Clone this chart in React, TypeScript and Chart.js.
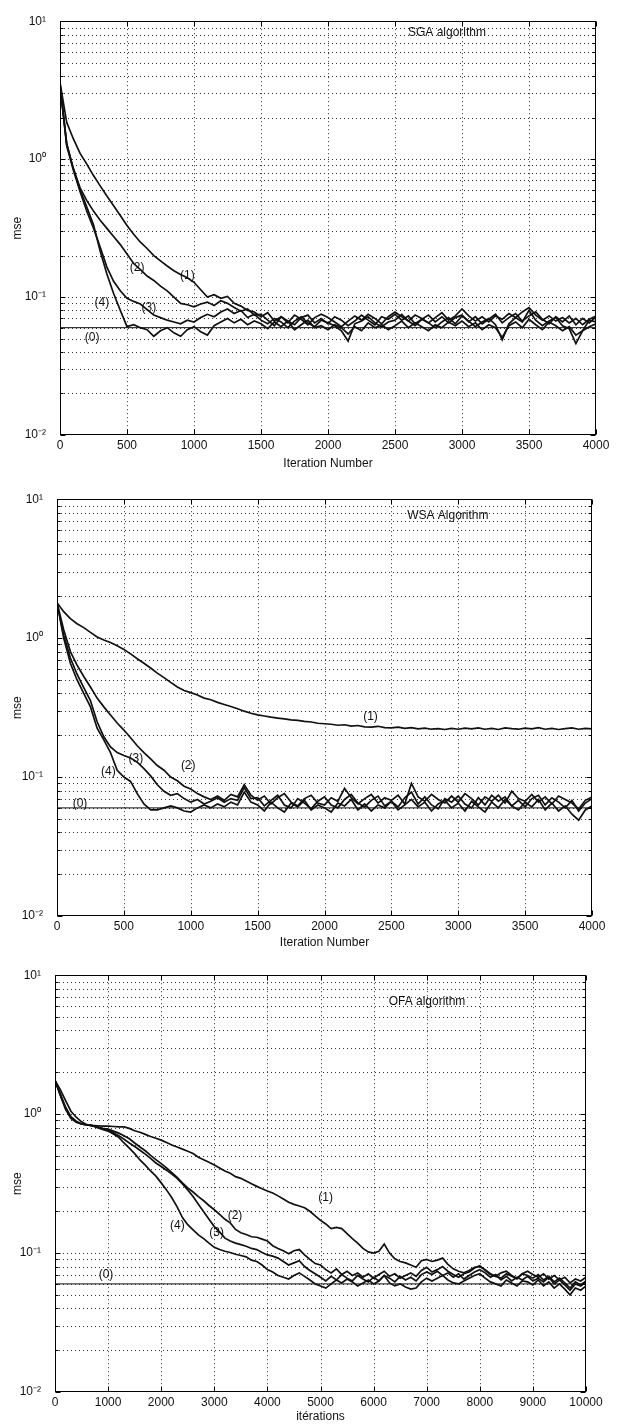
import React, { useEffect, useRef } from 'react';
import { Chart, registerables } from 'chart.js';

Chart.register(...registerables);

const FONT_FAMILY = '"Liberation Sans", Arial, Helvetica, sans-serif';
const INK = '#111111';

// ---------- axes ----------
const LOG_TICKS = [
  0.01, 0.02, 0.03, 0.04, 0.05, 0.06, 0.07, 0.08, 0.09,
  0.1, 0.2, 0.3, 0.4, 0.5, 0.6, 0.7, 0.8, 0.9,
  1, 2, 3, 4, 5, 6, 7, 8, 9, 10,
];
const Y_MAJOR = [0.01, 0.1, 1, 10];
const Y_MAJOR_LABELS = ['10⁻²', '10⁻¹', '10⁰', '10¹'];
const MSE_FLOOR = 0.06; // curve (0)

// iteration grids (categories)
const SGA_ITER = Array.from({ length: 81 }, (_, i) => i * 50);
const WSA_ITER = Array.from({ length: 81 }, (_, i) => i * 50);
const OFA_ITER = Array.from({ length: 101 }, (_, i) => i * 100);

// ---------- SGA ----------
const SGA_1 = [
  3.6, 1.85, 1.40, 1.10, 0.92, 0.76, 0.64, 0.54, 0.46, 0.39,
  0.33, 0.285, 0.25, 0.225, 0.20, 0.183, 0.168, 0.155, 0.146, 0.138,
  0.128, 0.113, 0.100, 0.104, 0.098, 0.101, 0.090, 0.086, 0.080, 0.078,
  0.072, 0.077, 0.067, 0.072, 0.065, 0.074, 0.069, 0.063, 0.071, 0.075,
  0.071, 0.066, 0.061, 0.067, 0.073, 0.068, 0.075, 0.070, 0.064, 0.072,
  0.078, 0.072, 0.067, 0.074, 0.070, 0.065, 0.071, 0.077, 0.068, 0.073,
  0.082, 0.073, 0.067, 0.072, 0.066, 0.073, 0.069, 0.076, 0.071, 0.078,
  0.084, 0.074, 0.068, 0.073, 0.067, 0.071, 0.065, 0.070, 0.063, 0.069, 0.073,
];
const SGA_2 = [
  3.4, 1.30, 0.85, 0.62, 0.50, 0.42, 0.36, 0.315, 0.275, 0.24,
  0.205, 0.175, 0.158, 0.142, 0.132, 0.120, 0.111, 0.100, 0.090, 0.088,
  0.085, 0.089, 0.092, 0.087, 0.094, 0.090, 0.084, 0.079, 0.082, 0.074,
  0.075, 0.068, 0.062, 0.072, 0.067, 0.063, 0.071, 0.074, 0.065, 0.070,
  0.064, 0.072, 0.068, 0.062, 0.067, 0.074, 0.068, 0.063, 0.072, 0.069,
  0.075, 0.068, 0.073, 0.064, 0.069, 0.074, 0.066, 0.072, 0.065, 0.071,
  0.074, 0.066, 0.072, 0.064, 0.069, 0.075, 0.065, 0.071, 0.076, 0.067,
  0.073, 0.078, 0.069, 0.064, 0.072, 0.066, 0.073, 0.063, 0.070, 0.065, 0.072,
];
const SGA_3 = [
  3.5, 1.25, 0.83, 0.58, 0.42, 0.316, 0.23, 0.165, 0.130, 0.111,
  0.098, 0.093, 0.089, 0.081, 0.074, 0.071, 0.068, 0.066, 0.064, 0.068,
  0.066, 0.071, 0.075, 0.072, 0.078, 0.082, 0.076, 0.080, 0.071, 0.075,
  0.068, 0.064, 0.070, 0.066, 0.060, 0.067, 0.072, 0.065, 0.061, 0.068,
  0.065, 0.062, 0.057, 0.048, 0.064, 0.067, 0.072, 0.065, 0.061, 0.066,
  0.068, 0.075, 0.067, 0.062, 0.069, 0.065, 0.060, 0.066, 0.071, 0.064,
  0.073, 0.067, 0.061, 0.066, 0.070, 0.063, 0.049, 0.064, 0.071, 0.066,
  0.080, 0.068, 0.062, 0.067, 0.071, 0.062, 0.059, 0.046, 0.057, 0.068, 0.066,
];
const SGA_4 = [
  3.5, 1.28, 0.85, 0.60, 0.45, 0.335, 0.215, 0.147, 0.106, 0.080,
  0.061, 0.063, 0.060, 0.058, 0.052, 0.057, 0.060, 0.055, 0.052, 0.058,
  0.061, 0.056, 0.053, 0.062, 0.066, 0.070, 0.065, 0.069, 0.063, 0.067,
  0.064, 0.059, 0.066, 0.061, 0.067, 0.058, 0.063, 0.068, 0.060, 0.062,
  0.058, 0.063, 0.060, 0.054, 0.061, 0.057, 0.065, 0.060, 0.063, 0.058,
  0.062, 0.067, 0.060, 0.065, 0.061, 0.057, 0.063, 0.060, 0.066, 0.062,
  0.067, 0.061, 0.065, 0.058, 0.063, 0.060, 0.051, 0.062, 0.066, 0.060,
  0.069, 0.063, 0.058, 0.066, 0.062, 0.057, 0.061, 0.053, 0.057, 0.061, 0.064,
];

// ---------- WSA ----------
const WSA_1 = [
  1.8, 1.55, 1.38, 1.27, 1.19, 1.10, 1.02, 0.97, 0.93, 0.88,
  0.83, 0.77, 0.71, 0.66, 0.61, 0.56, 0.52, 0.48, 0.445, 0.42,
  0.405, 0.39, 0.37, 0.36, 0.345, 0.333, 0.322, 0.31, 0.298, 0.288,
  0.28, 0.275, 0.27, 0.266, 0.262, 0.258, 0.256, 0.252, 0.249, 0.244,
  0.242, 0.240, 0.236, 0.238, 0.233, 0.235, 0.230, 0.229, 0.232, 0.227,
  0.226, 0.229, 0.224, 0.227, 0.222, 0.225, 0.221, 0.223, 0.220, 0.224,
  0.221, 0.225, 0.222, 0.226, 0.221, 0.224, 0.220, 0.226, 0.223, 0.221,
  0.225, 0.222, 0.227, 0.221, 0.224, 0.220, 0.223, 0.226, 0.221, 0.224, 0.222,
];
const WSA_2 = [
  1.8, 1.15, 0.80, 0.64, 0.53, 0.445, 0.37, 0.32, 0.28, 0.245,
  0.218, 0.192, 0.168, 0.150, 0.135, 0.121, 0.112, 0.100, 0.094, 0.086,
  0.082, 0.076, 0.072, 0.069, 0.073, 0.068, 0.075, 0.072, 0.088, 0.074,
  0.068, 0.073, 0.064, 0.071, 0.076, 0.066, 0.062, 0.070, 0.074, 0.065,
  0.063, 0.071, 0.067, 0.083, 0.071, 0.064, 0.070, 0.075, 0.065, 0.071,
  0.068, 0.074, 0.064, 0.090, 0.072, 0.067, 0.075, 0.069, 0.065, 0.073,
  0.066, 0.076, 0.070, 0.063, 0.072, 0.067, 0.074, 0.065, 0.079, 0.070,
  0.067, 0.075, 0.066, 0.072, 0.064, 0.073, 0.069, 0.065, 0.059, 0.068, 0.072,
];
const WSA_3 = [
  1.8, 1.05, 0.72, 0.55, 0.44, 0.355, 0.25, 0.195, 0.165, 0.150,
  0.143, 0.137, 0.128, 0.115, 0.102, 0.088, 0.079, 0.074, 0.076, 0.070,
  0.066, 0.069, 0.064, 0.067, 0.071, 0.066, 0.070, 0.068, 0.084, 0.070,
  0.071, 0.062, 0.068, 0.074, 0.063, 0.060, 0.070, 0.065, 0.059, 0.067,
  0.072, 0.063, 0.060, 0.069, 0.075, 0.065, 0.061, 0.068, 0.073, 0.062,
  0.067, 0.061, 0.071, 0.078, 0.064, 0.072, 0.063, 0.059, 0.070, 0.066,
  0.073, 0.064, 0.060, 0.071, 0.063, 0.074, 0.067, 0.072, 0.062, 0.068,
  0.061, 0.070, 0.074, 0.063, 0.071, 0.066, 0.060, 0.068, 0.057, 0.065, 0.070,
];
const WSA_4 = [
  1.8, 1.00, 0.66, 0.50, 0.40, 0.32, 0.225, 0.185, 0.150, 0.112,
  0.100, 0.093, 0.076, 0.064, 0.058, 0.058, 0.060, 0.062, 0.060, 0.057,
  0.056, 0.060, 0.063, 0.060, 0.064, 0.061, 0.066, 0.063, 0.078, 0.066,
  0.063, 0.057, 0.066, 0.060, 0.056, 0.065, 0.061, 0.068, 0.058, 0.063,
  0.060, 0.056, 0.065, 0.062, 0.069, 0.058, 0.064, 0.057, 0.063, 0.060,
  0.067, 0.058, 0.063, 0.069, 0.061, 0.066, 0.057, 0.064, 0.068, 0.060,
  0.065, 0.057, 0.067, 0.061, 0.056, 0.066, 0.060, 0.069, 0.062, 0.058,
  0.066, 0.061, 0.069, 0.058, 0.065, 0.057, 0.062, 0.054, 0.049, 0.058, 0.062,
];

// ---------- OFA ----------
const OFA_1 = [
  1.75, 1.50, 1.25, 1.05, 0.95, 0.88, 0.84, 0.83, 0.825, 0.82,
  0.82, 0.815, 0.81, 0.81, 0.79, 0.76, 0.74, 0.715, 0.69, 0.67,
  0.65, 0.625, 0.60, 0.58, 0.56, 0.54, 0.52, 0.49, 0.47, 0.45,
  0.43, 0.41, 0.39, 0.375, 0.355, 0.345, 0.33, 0.315, 0.302, 0.29,
  0.28, 0.271, 0.258, 0.245, 0.232, 0.224, 0.218, 0.212, 0.20, 0.185,
  0.172, 0.162, 0.150, 0.153, 0.150, 0.138, 0.127, 0.118, 0.108, 0.102,
  0.100, 0.103, 0.116, 0.100, 0.091, 0.087, 0.085, 0.082, 0.079, 0.088,
  0.090, 0.087, 0.089, 0.092, 0.083, 0.077, 0.074, 0.072, 0.075, 0.079,
  0.080, 0.076, 0.071, 0.068, 0.072, 0.074, 0.069, 0.066, 0.071, 0.074,
  0.070, 0.067, 0.071, 0.065, 0.069, 0.064, 0.067, 0.061, 0.065, 0.063, 0.067,
];
const OFA_2 = [
  1.75, 1.40, 1.12, 0.96, 0.89, 0.85, 0.835, 0.826, 0.81, 0.79,
  0.78, 0.755, 0.73, 0.70, 0.665, 0.62, 0.58, 0.545, 0.505, 0.47,
  0.44, 0.41, 0.38, 0.35, 0.32, 0.295, 0.275, 0.255, 0.238, 0.22,
  0.205, 0.19, 0.175, 0.165, 0.148, 0.140, 0.136, 0.131, 0.130, 0.126,
  0.122, 0.113, 0.108, 0.104, 0.099, 0.104, 0.106, 0.097, 0.090, 0.084,
  0.082, 0.076, 0.072, 0.077, 0.070, 0.074, 0.069, 0.072, 0.067, 0.071,
  0.066, 0.070, 0.074, 0.068, 0.071, 0.066, 0.069, 0.072, 0.068, 0.075,
  0.079, 0.073, 0.076, 0.080, 0.074, 0.070, 0.067, 0.071, 0.073, 0.078,
  0.081, 0.075, 0.070, 0.068, 0.066, 0.071, 0.068, 0.065, 0.071, 0.069,
  0.066, 0.070, 0.064, 0.068, 0.062, 0.066, 0.061, 0.056, 0.062, 0.059, 0.063,
];
const OFA_3 = [
  1.75, 1.38, 1.10, 0.94, 0.88, 0.85, 0.835, 0.826, 0.805, 0.78,
  0.765, 0.735, 0.70, 0.66, 0.62, 0.585, 0.55, 0.515, 0.48, 0.445,
  0.42, 0.395, 0.37, 0.345, 0.315, 0.285, 0.255, 0.225, 0.198, 0.175,
  0.155, 0.142, 0.128, 0.122, 0.118, 0.115, 0.112, 0.108, 0.106, 0.101,
  0.097, 0.095, 0.092, 0.087, 0.082, 0.085, 0.088, 0.080, 0.075, 0.071,
  0.067, 0.063, 0.068, 0.064, 0.070, 0.066, 0.063, 0.069, 0.065, 0.062,
  0.067, 0.063, 0.069, 0.066, 0.062, 0.068, 0.064, 0.067, 0.063, 0.070,
  0.073, 0.070, 0.074, 0.069, 0.072, 0.067, 0.071, 0.065, 0.069, 0.073,
  0.076, 0.072, 0.067, 0.070, 0.064, 0.068, 0.063, 0.067, 0.064, 0.068,
  0.063, 0.066, 0.062, 0.067, 0.060, 0.064, 0.059, 0.054, 0.060, 0.058, 0.062,
];
const OFA_4 = [
  1.75, 1.36, 1.08, 0.93, 0.875, 0.85, 0.835, 0.826, 0.80, 0.775,
  0.755, 0.72, 0.68, 0.62, 0.57, 0.52, 0.468, 0.43, 0.39, 0.358,
  0.32, 0.285, 0.25, 0.215, 0.18, 0.16, 0.147, 0.135, 0.127, 0.118,
  0.11, 0.106, 0.103, 0.101, 0.098, 0.096, 0.094, 0.089, 0.087, 0.082,
  0.076, 0.073, 0.069, 0.067, 0.065, 0.069, 0.072, 0.068, 0.064, 0.060,
  0.058, 0.056, 0.060, 0.064, 0.061, 0.065, 0.062, 0.058, 0.061, 0.064,
  0.060, 0.063, 0.069, 0.061, 0.058, 0.060, 0.057, 0.055, 0.056, 0.062,
  0.066, 0.063, 0.066, 0.069, 0.064, 0.061, 0.060, 0.063, 0.066, 0.069,
  0.071, 0.066, 0.062, 0.060, 0.058, 0.064, 0.061, 0.058, 0.063, 0.062,
  0.059, 0.064, 0.058, 0.062, 0.056, 0.060, 0.055, 0.050, 0.056, 0.054, 0.058,
];

// ---------- curve labels (data coordinates) ----------
type Label = { text: string; x: number; y: number };
const SGA_LABELS: Label[] = [
  { text: '(1)', x: 950, y: 0.142 },
  { text: '(2)', x: 575, y: 0.163 },
  { text: '(3)', x: 663, y: 0.084 },
  { text: '(4)', x: 313, y: 0.091 },
  { text: '(0)', x: 240, y: 0.051 },
];
const WSA_LABELS: Label[] = [
  { text: '(1)', x: 2344, y: 0.274 },
  { text: '(2)', x: 981, y: 0.121 },
  { text: '(3)', x: 590, y: 0.135 },
  { text: '(4)', x: 384, y: 0.109 },
  { text: '(0)', x: 172, y: 0.0645 },
];
const OFA_LABELS: Label[] = [
  { text: '(1)', x: 5097, y: 0.25 },
  { text: '(2)', x: 3390, y: 0.185 },
  { text: '(3)', x: 3045, y: 0.141 },
  { text: '(4)', x: 2303, y: 0.157 },
  { text: '(0)', x: 960, y: 0.0695 },
];

type Panel = {
  id: string;
  top: number;
  height: number;
  left: number;
  right: number;
  chartTop: number;
  chartBottom: number;
  xAxisHeight: number;
  xMax: number;
  xStep: number;
  xTitle: string;
  title: string;
  titleX: number;
  titleY: number;
  iter: number[];
  series: number[][];
  labels: Label[];
};

const PANELS: Panel[] = [
  {
    id: 'sga', top: 0, height: 478, left: 60, right: 596, chartTop: 17, chartBottom: 435, xAxisHeight: 40,
    xMax: 4000, xStep: 500, xTitle: 'Iteration Number', title: 'SGA algorithm', titleX: 2888, titleY: 8.3,
    iter: SGA_ITER, series: [SGA_1, SGA_2, SGA_3, SGA_4], labels: SGA_LABELS,
  },
  {
    id: 'wsa', top: 478, height: 476, left: 57, right: 592, chartTop: 15, chartBottom: 438, xAxisHeight: 38,
    xMax: 4000, xStep: 500, xTitle: 'Iteration Number', title: 'WSA Algorithm', titleX: 2922, titleY: 7.6,
    iter: WSA_ITER, series: [WSA_1, WSA_2, WSA_3, WSA_4], labels: WSA_LABELS,
  },
  {
    id: 'ofa', top: 954, height: 470, left: 55, right: 586, chartTop: 15, chartBottom: 438, xAxisHeight: 32,
    xMax: 10000, xStep: 1000, xTitle: 'itérations', title: 'OFA algorithm', titleX: 7006, titleY: 6.5,
    iter: OFA_ITER, series: [OFA_1, OFA_2, OFA_3, OFA_4], labels: OFA_LABELS,
  },
];

function makePlugin(p: Panel) {
  return {
    id: 'matlabFrame_' + p.id,
    beforeDatasetsDraw(chart: any) {
      const { ctx, chartArea: a, scales } = chart;
      const x = scales.x;
      const y = scales.y;
      ctx.save();
      ctx.strokeStyle = '#333333';
      ctx.lineWidth = 1;
      ctx.setLineDash([1, 3]);
      ctx.beginPath();
      for (const t of y.ticks) {
        const py = Math.round(y.getPixelForValue(t.value)) + 0.5;
        if (py <= a.top + 1 || py >= a.bottom - 1) continue;
        ctx.moveTo(a.left, py);
        ctx.lineTo(a.right, py);
      }
      for (const t of x.ticks) {
        const px = Math.round(x.getPixelForValue(t.value)) + 0.5;
        if (px <= a.left + 1 || px >= a.right - 1) continue;
        ctx.moveTo(px, a.top);
        ctx.lineTo(px, a.bottom);
      }
      ctx.stroke();
      ctx.restore();
    },
    afterDatasetsDraw(chart: any) {
      const { ctx, chartArea: a, scales } = chart;
      const x = scales.x;
      const y = scales.y;
      ctx.save();
      ctx.setLineDash([]);
      ctx.strokeStyle = '#000';
      ctx.lineWidth = 1;
      const L = Math.round(a.left) + 0.5;
      const R = Math.round(a.right) - 0.5;
      const T = Math.round(a.top) + 0.5;
      const B = Math.round(a.bottom) - 0.5;
      ctx.strokeRect(L, T, R - L, B - T);
      ctx.beginPath();
      for (const t of x.ticks) {
        const px = Math.round(x.getPixelForValue(t.value)) + 0.5;
        ctx.moveTo(px, B);
        ctx.lineTo(px, B - 5);
        ctx.moveTo(px, T);
        ctx.lineTo(px, T + 5);
      }
      for (const t of y.ticks) {
        const py = Math.round(y.getPixelForValue(t.value)) + 0.5;
        const len = Y_MAJOR.some((m) => Math.abs(m - t.value) < 1e-9) ? 5 : 3;
        ctx.moveTo(L, py);
        ctx.lineTo(L + len, py);
        ctx.moveTo(R, py);
        ctx.lineTo(R - len, py);
      }
      ctx.stroke();

      ctx.fillStyle = INK;
      ctx.font = `12px ${FONT_FAMILY}`;
      ctx.textAlign = 'center';
      ctx.textBaseline = 'middle';
      for (const l of p.labels) {
        ctx.fillText(l.text, x.getPixelForValue(l.x), y.getPixelForValue(l.y));
      }
      ctx.fillText(p.title, x.getPixelForValue(p.titleX), y.getPixelForValue(p.titleY));
      ctx.restore();
    },
  };
}

function PanelChart({ p }: { p: Panel }) {
  const ref = useRef<HTMLCanvasElement>(null);
  useEffect(() => {
    if (!ref.current) return;
    const font = { family: FONT_FAMILY, size: 12 };
    const datasets: any[] = p.series.map((s) => ({
      data: p.iter.map((it, i) => ({ x: it, y: s[i] })),
      borderColor: INK,
      borderWidth: 1.7,
      pointRadius: 0,
      tension: 0,
      fill: false,
    }));
    datasets.push({
      data: [
        { x: 0, y: MSE_FLOOR },
        { x: p.xMax, y: MSE_FLOOR },
      ],
      borderColor: INK,
      borderWidth: 1,
      pointRadius: 0,
      fill: false,
    });
    const chart = new Chart(ref.current, {
      type: 'line',
      data: { datasets },
      options: {
        animation: false,
        responsive: false,
        maintainAspectRatio: false,
        events: [],
        layout: {
          padding: {
            left: 0,
            right: 618 - p.right,
            top: p.chartTop,
            bottom: p.height - p.chartBottom - p.xAxisHeight,
          },
        },
        plugins: {
          legend: { display: false },
          tooltip: { enabled: false },
          title: { display: false },
        },
        scales: {
          x: {
            type: 'linear',
            min: 0,
            max: p.xMax,
            afterFit: (s: any) => {
              s.height = p.xAxisHeight;
            },
            grid: { display: false, drawTicks: false },
            border: { display: false },
            ticks: {
              stepSize: p.xStep,
              autoSkip: false,
              maxRotation: 0,
              padding: 3,
              color: INK,
              font,
              callback: (v: any) => String(v),
            },
            title: {
              display: true,
              text: p.xTitle,
              color: INK,
              font,
              padding: { top: 0, bottom: p.id === 'ofa' ? 0 : 4 },
            },
          },
          y: {
            type: 'logarithmic',
            min: 0.01,
            max: 10,
            afterFit: (s: any) => {
              s.width = p.left;
            },
            afterBuildTicks: (s: any) => {
              s.ticks = LOG_TICKS.map((v) => ({ value: v }));
            },
            grid: { display: false, drawTicks: false },
            border: { display: false },
            ticks: {
              autoSkip: false,
              padding: 14,
              color: INK,
              font,
              callback: (v: any) => {
                const idx = Y_MAJOR.findIndex((m) => Math.abs(m - Number(v)) < 1e-9);
                return idx >= 0 ? Y_MAJOR_LABELS[idx] : '';
              },
            },
            title: {
              display: true,
              text: 'mse',
              color: INK,
              font,
              padding: { top: 10, bottom: 0 },
            },
          },
        },
      } as any,
      plugins: [makePlugin(p) as any],
    });
    return () => chart.destroy();
  }, [p]);
  return (
    <canvas
      ref={ref}
      width={618}
      height={p.height}
      style={{ position: 'absolute', left: 0, top: p.top, width: 618, height: p.height, display: 'block' }}
    />
  );
}

export default function App() {
  return (
    <div
      style={{
        position: 'absolute',
        left: 0,
        top: 0,
        width: 618,
        height: 1424,
        overflow: 'hidden',
        background: '#ffffff',
      }}
    >
      {PANELS.map((p) => (
        <PanelChart key={p.id} p={p} />
      ))}
    </div>
  );
}
